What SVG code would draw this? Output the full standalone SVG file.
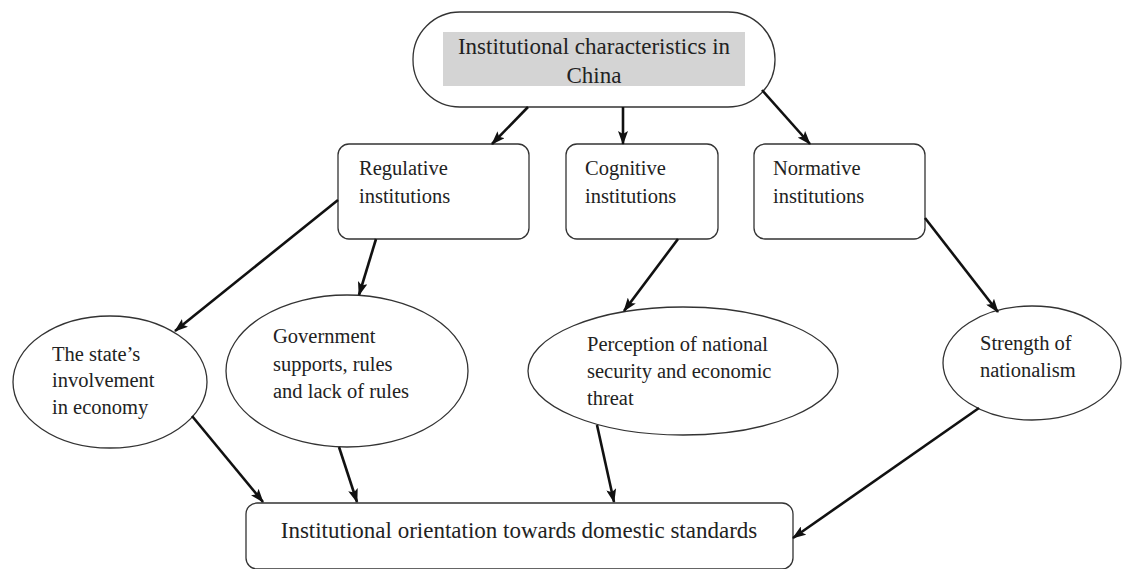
<svg xmlns="http://www.w3.org/2000/svg" width="1124" height="569" viewBox="0 0 1124 569">
<defs>
<marker id="ah" viewBox="0 0 14 10" refX="13" refY="5" markerWidth="14" markerHeight="10" orient="auto" markerUnits="userSpaceOnUse">
<path d="M0,0 L14,5 L0,10 L3,5 Z" fill="#111"/>
</marker>
<style>
.sh{fill:#fff;stroke:#333;stroke-width:1.3}
.t{font-family:"Liberation Serif","Times New Roman",serif;font-size:20.5px;fill:#222}
.big{font-size:23px}
.c{stroke:#111;stroke-width:2.6;fill:none;marker-end:url(#ah)}
</style>
</defs>
<rect width="1124" height="569" fill="#fff"/>
<g id="top">
<rect class="sh" x="413" y="12" width="362" height="95" rx="47" ry="47"/>
<rect x="443" y="32" width="302" height="54" fill="#d4d4d4"/>
<text class="t big" x="594" y="54" text-anchor="middle">Institutional characteristics in</text>
<text class="t big" x="594" y="83" text-anchor="middle">China</text>
</g>
<g id="regulative">
<rect class="sh" x="338" y="144" width="191" height="95" rx="11"/>
<text class="t" x="359" y="175">Regulative</text>
<text class="t" x="359" y="203">institutions</text>
</g>
<g id="cognitive">
<rect class="sh" x="566" y="144" width="152" height="95" rx="11"/>
<text class="t" x="585" y="175">Cognitive</text>
<text class="t" x="585" y="203">institutions</text>
</g>
<g id="normative">
<rect class="sh" x="754" y="144" width="171" height="95" rx="11"/>
<text class="t" x="773" y="175">Normative</text>
<text class="t" x="773" y="203">institutions</text>
</g>
<g id="state">
<ellipse class="sh" cx="110" cy="382" rx="97" ry="66"/>
<text class="t" x="52" y="361">The state’s</text>
<text class="t" x="52" y="387">involvement</text>
<text class="t" x="52" y="414">in economy</text>
</g>
<g id="government">
<ellipse class="sh" cx="347" cy="371" rx="121" ry="76"/>
<text class="t" x="273" y="343">Government</text>
<text class="t" x="273" y="371">supports, rules</text>
<text class="t" x="273" y="398">and lack of rules</text>
</g>
<g id="perception">
<ellipse class="sh" cx="683" cy="371" rx="155" ry="64"/>
<text class="t" x="587" y="351">Perception of national</text>
<text class="t" x="587" y="378">security and economic</text>
<text class="t" x="587" y="405">threat</text>
</g>
<g id="strength">
<ellipse class="sh" cx="1032" cy="363" rx="89" ry="57"/>
<text class="t" x="980" y="350">Strength of</text>
<text class="t" x="980" y="377">nationalism</text>
</g>
<g id="orientation">
<rect class="sh" x="246" y="503" width="547" height="66" rx="11"/>
<text class="t big" x="519" y="538" text-anchor="middle">Institutional orientation towards domestic standards</text>
</g>
<g id="connectors">
<line class="c" x1="528" y1="107" x2="492" y2="144"/>
<line class="c" x1="623" y1="107" x2="623" y2="144"/>
<line class="c" x1="762" y1="90" x2="810" y2="144"/>
<line class="c" x1="338" y1="200" x2="175" y2="331"/>
<line class="c" x1="376" y1="239" x2="359" y2="295"/>
<line class="c" x1="678" y1="239" x2="624" y2="311"/>
<line class="c" x1="925" y1="218" x2="998" y2="312"/>
<line class="c" x1="192" y1="416" x2="263" y2="502"/>
<line class="c" x1="339" y1="447" x2="357" y2="502"/>
<line class="c" x1="597" y1="425" x2="614" y2="502"/>
<line class="c" x1="979" y1="408" x2="793" y2="538"/>
</g>
</svg>
